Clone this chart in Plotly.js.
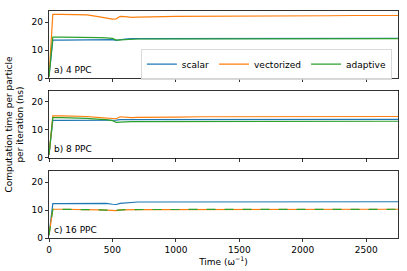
<!DOCTYPE html>
<html><head><meta charset="utf-8">
<script src="https://cdn.plot.ly/plotly-3.0.1.min.js"></script>
<style>html,body{margin:0;padding:0;background:#fff;}#chart{width:407px;height:271px;}</style>
</head><body><div id="chart"></div>
<script>
const time = [0, 30, 100, 200, 300, 400, 450, 500, 530, 560, 600, 650, 700, 800, 900, 1000, 1200, 1400, 1600, 1800, 2000, 2200, 2400, 2600, 2750];

const a_scalar     = [0.5, 13.6, 13.6, 13.7, 13.7, 13.8, 13.8, 13.8, 13.5, 13.8, 14.0, 14.1, 14.1, 14.1, 14.1, 14.1, 14.1, 14.1, 14.2, 14.2, 14.2, 14.2, 14.2, 14.2, 14.2];
const a_vectorized = [0.5, 22.8, 22.8, 22.7, 22.6, 21.9, 21.5, 21.1, 21.2, 22.1, 22.0, 21.7, 21.8, 22.0, 22.0, 22.1, 22.1, 22.2, 22.2, 22.3, 22.3, 22.3, 22.4, 22.4, 22.4];
const a_adaptive   = [0.5, 14.7, 14.7, 14.7, 14.6, 14.5, 14.4, 14.2, 13.6, 13.7, 13.9, 14.0, 14.0, 14.0, 14.0, 14.0, 14.0, 14.0, 14.0, 14.0, 14.1, 14.1, 14.1, 14.1, 14.1];

const b_scalar     = [1, 13.3, 13.3, 13.3, 13.3, 13.3, 13.3, 13.3, 13.4, 13.6, 13.6, 13.6, 13.6, 13.6, 13.6, 13.6, 13.6, 13.6, 13.7, 13.7, 13.7, 13.7, 13.7, 13.7, 13.7];
const b_vectorized = [1, 14.9, 14.9, 14.9, 14.7, 14.3, 14.1, 14.0, 13.9, 14.6, 14.4, 14.3, 14.4, 14.5, 14.5, 14.5, 14.6, 14.6, 14.6, 14.6, 14.7, 14.7, 14.7, 14.7, 14.7];
const b_adaptive   = [1, 14.3, 14.3, 14.2, 14.0, 13.7, 13.6, 13.2, 12.6, 12.7, 12.9, 12.9, 12.9, 12.9, 12.9, 12.9, 12.9, 13.0, 13.0, 13.0, 13.0, 13.0, 13.0, 13.0, 13.0];

const c_scalar     = [1, 12.3, 12.3, 12.4, 12.4, 12.5, 12.4, 12.1, 12.0, 12.4, 12.6, 12.8, 12.9, 12.9, 12.9, 12.8, 12.8, 12.9, 12.9, 12.9, 12.9, 12.9, 12.9, 13.0, 13.0];
const c_vectorized = [1, 10.3, 10.3, 10.3, 10.2, 10.1, 10.0, 9.9, 9.8, 10.1, 10.2, 10.2, 10.2, 10.2, 10.2, 10.2, 10.2, 10.2, 10.2, 10.2, 10.2, 10.3, 10.3, 10.3, 10.3];
const c_adaptive   = [1, 10.3, 10.3, 10.3, 10.2, 10.1, 10.0, 9.9, 9.8, 10.0, 10.2, 10.2, 10.2, 10.2, 10.2, 10.2, 10.2, 10.2, 10.2, 10.2, 10.2, 10.3, 10.3, 10.3, 10.3];

const seriesNames = ['scalar', 'vectorized', 'adaptive'];
const panelLabels = ['a) 4 PPC', 'b) 8 PPC', 'c) 16 PPC'];
const xTicks = [0, 500, 1000, 1500, 2000, 2500];
const yTicks = [0, 10, 20];

const colors = ['#1f77b4', '#ff7f0e', '#2ca02c'];
const panels = [
  [a_scalar, a_vectorized, a_adaptive],
  [b_scalar, b_vectorized, b_adaptive],
  [c_scalar, c_vectorized, c_adaptive]
];
const axSuffix = ['', '2', '3'];
const traces = [];
panels.forEach((p, pi) => {
  p.forEach((vals, si) => {
    traces.push({
      x: time, y: vals, type: 'scatter', mode: 'lines',
      name: seriesNames[si],
      showlegend: pi === 0,
      xaxis: 'x' + axSuffix[pi], yaxis: 'y' + axSuffix[pi],
      line: {color: colors[si], width: 1.2, dash: (pi === 2 && si === 2) ? 'dash' : 'solid'}
    });
  });
});

const font = {family: 'DejaVu Sans, sans-serif', size: 9, color: '#000'};
function xax(showLabels, anchor) {
  return {range: [0, 2750], tickvals: xTicks, showticklabels: showLabels, ticks: 'outside', ticklen: 3.5,
    tickwidth: 0.8, tickcolor: '#000', showline: true, mirror: true, linecolor: '#000', linewidth: 0.8,
    showgrid: false, zeroline: false, anchor: anchor, tickfont: font};
}
function yax(domain, anchor) {
  return {range: [0, 24], domain: domain, tickvals: yTicks, ticks: 'outside', ticklen: 3.5,
    tickwidth: 0.8, tickcolor: '#000', showline: true, mirror: true, linecolor: '#000', linewidth: 0.8,
    showgrid: false, zeroline: false, anchor: anchor, tickfont: font};
}
const domains = [[0.704, 1], [0.354, 0.650], [0, 0.295]];
const layout = {
  width: 407, height: 271,
  margin: {l: 49, r: 9, t: 11, b: 32.5},
  paper_bgcolor: '#fff', plot_bgcolor: '#fff',
  font: font,
  xaxis: xax(false, 'y'),
  xaxis2: xax(false, 'y2'),
  xaxis3: Object.assign(xax(true, 'y3'), {title: {text: 'Time (ω<sup>−1</sup>)', font: font, standoff: 2}}),
  yaxis: yax(domains[0], 'x'),
  yaxis2: yax(domains[1], 'x2'),
  yaxis3: yax(domains[2], 'x3'),
  legend: {orientation: 'h', x: 0.983, xanchor: 'right', y: 0.765, yanchor: 'middle',
    bordercolor: '#d0d0d0', borderwidth: 0.8, bgcolor: 'rgba(255,255,255,0.8)', font: font,
    tracegroupgap: 0, itemwidth: 30},
  annotations: [
    ...panelLabels.map((t, i) => ({text: t, xref: 'x' + axSuffix[i] + ' domain', yref: 'y' + axSuffix[i] + ' domain',
      x: 0.008, y: 0.02, xanchor: 'left', yanchor: 'bottom', showarrow: false, font: font})),
    {text: 'Computation time per particle<br>per iteration (ns)', xref: 'paper', yref: 'paper',
      x: -0.1, y: 0.5, xanchor: 'center', yanchor: 'middle', textangle: -90, showarrow: false, font: font}
  ]
};
Plotly.newPlot('chart', traces, layout, {staticPlot: true});
</script></body></html>
